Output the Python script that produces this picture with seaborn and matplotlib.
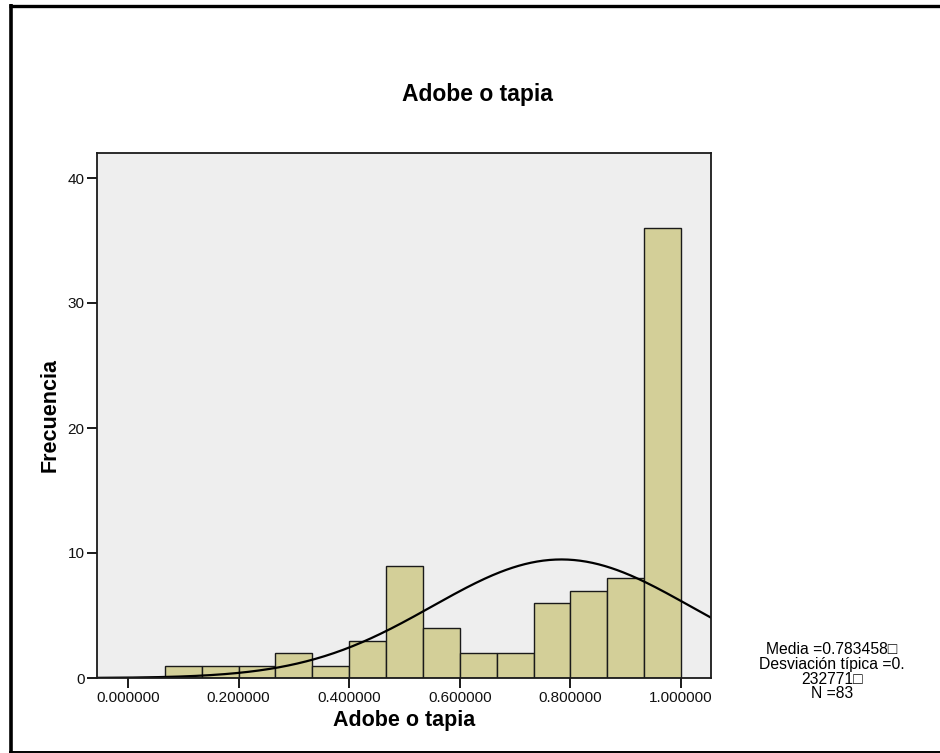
import numpy as np
import pandas as pd
import matplotlib
matplotlib.use("Agg")
import matplotlib.pyplot as plt
from matplotlib.lines import Line2D
import seaborn as sns

# Histogram of "Adobe o tapia" (15 bins of width 1/15 over [0, 1])
bin_edges = [i / 15 for i in range(16)]
bin_centers = [(bin_edges[i] + bin_edges[i + 1]) / 2 for i in range(15)]
counts = [0, 1, 1, 1, 2, 1, 3, 9, 4, 2, 2, 6, 7, 8, 36]

mean_val = 0.783458
std_val = 0.232771
n_obs = 83

x_ticks = [0.0, 0.2, 0.4, 0.6, 0.8, 1.0]
x_tick_labels = ["0.000000", "0.200000", "0.400000", "0.600000", "0.800000", "1.000000"]
y_ticks = [0, 10, 20, 30, 40]

sns.set_theme(style="white")
plt.rcParams["font.family"] = ["Liberation Sans", "DejaVu Sans"]

W, H = 940, 753
fig = plt.figure(figsize=(W / 100, H / 100), dpi=100)
fig.patch.set_facecolor("white")

ax_l, ax_r, ax_t, ax_b = 97, 711, 153, 678
ax = fig.add_axes([ax_l / W, 1 - ax_b / H, (ax_r - ax_l) / W, (ax_b - ax_t) / H])
ax.set_facecolor("#eeeeee")

df = pd.DataFrame({"valor": bin_centers, "frecuencia": counts})
sns.histplot(data=df, x="valor", weights="frecuencia", bins=bin_edges,
             color="#d3cf98", edgecolor="#1a1a1a", linewidth=1.0, alpha=1.0,
             ax=ax)

x_min, x_max = -0.056, 1.054
bin_w = bin_edges[1] - bin_edges[0]
xs = np.linspace(x_min, x_max, 400)
curve = n_obs * bin_w / (std_val * np.sqrt(2 * np.pi)) * np.exp(-0.5 * ((xs - mean_val) / std_val) ** 2)
sns.lineplot(x=xs, y=curve, color="black", linewidth=1.6, ax=ax)

ax.set_xlim(x_min, x_max)
ax.set_ylim(0, 42)
ax.set_xticks(x_ticks)
ax.set_xticklabels(x_tick_labels)
ax.set_yticks(y_ticks)
ax.tick_params(axis="both", direction="out", length=7, width=1.4, color="#1a1a1a",
               labelsize=11, labelcolor="#111111", pad=2, bottom=True, left=True)
for sp in ax.spines.values():
    sp.set_color("#1a1a1a")
    sp.set_linewidth(1.3)

ax.set_xlabel("Adobe o tapia", fontsize=15.5, fontweight="bold", color="black", labelpad=4)
ax.set_ylabel("Frecuencia", fontsize=15.5, fontweight="bold", color="black", labelpad=5)

fig.text(477 / W, 1 - 94 / H, "Adobe o tapia", ha="center", va="center",
         fontsize=16.5, fontweight="bold", color="black")

stats_lines = [f"Media ={mean_val:.6f}\u25a1", "Desviación típica =0.",
               f"{str(std_val).split('.')[1]}\u25a1", f"N ={n_obs}"]
for i, line in enumerate(stats_lines):
    fig.text(832 / W, 1 - (650 + 14.5 * i) / H, line, ha="center", va="center",
             fontsize=11.3, color="black")

# Frame around the figure
frame_kw = dict(color="black", transform=fig.transFigure, solid_capstyle="butt")
fig.add_artist(Line2D([9 / W, 1], [1 - 5.5 / H, 1 - 5.5 / H], linewidth=2.4, **frame_kw))
fig.add_artist(Line2D([10.5 / W, 10.5 / W], [1 - 4 / H, 1 - 752.5 / H], linewidth=2.6, **frame_kw))
fig.add_artist(Line2D([9 / W, 1], [1 - 751.5 / H, 1 - 751.5 / H], linewidth=1.4, **frame_kw))

fig.savefig("out.png", dpi=100)
